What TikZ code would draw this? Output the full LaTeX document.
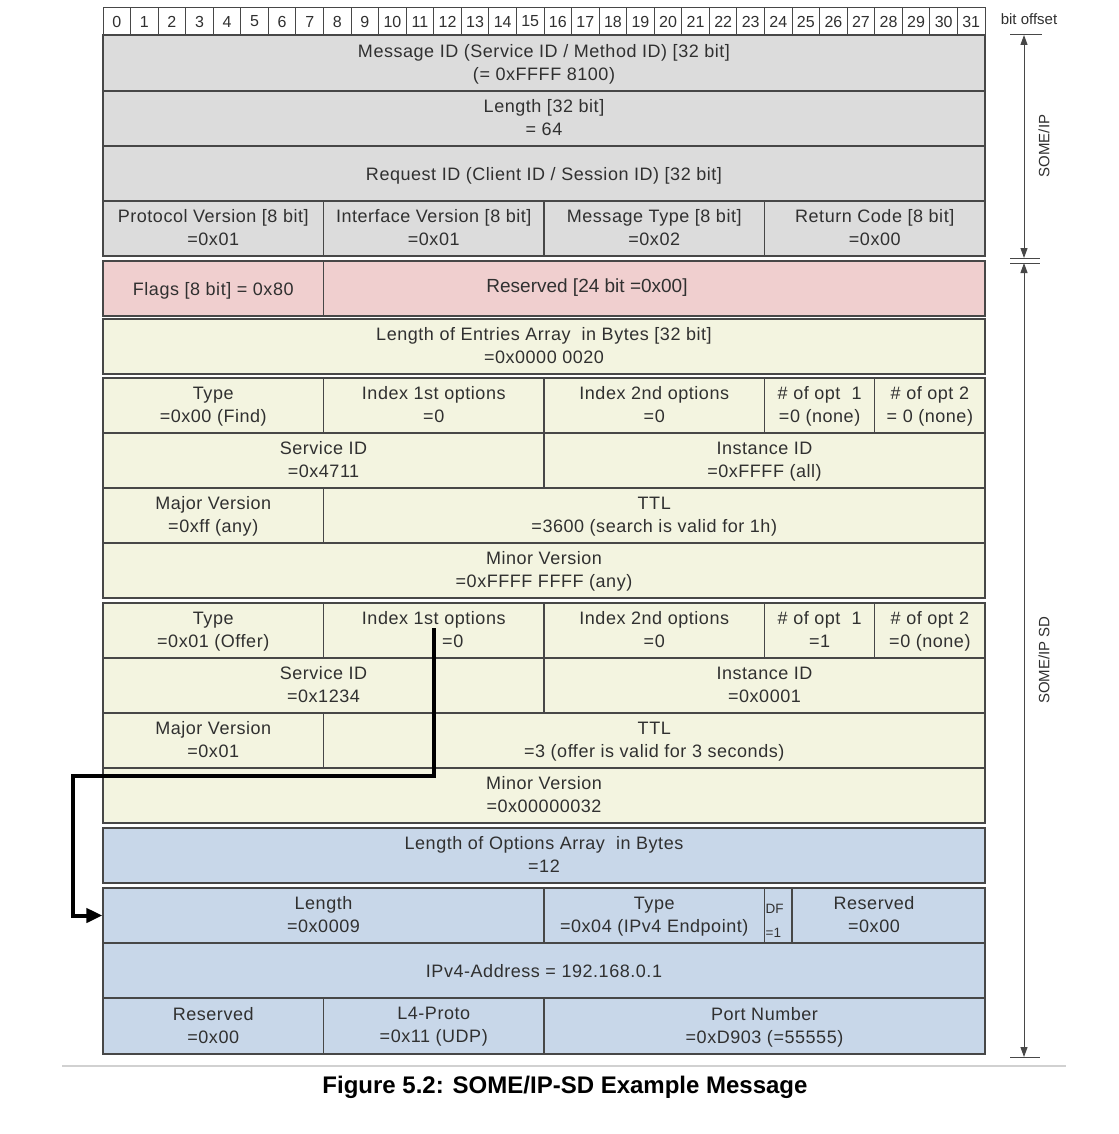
\documentclass[tikz,border=0pt]{standalone}
\usepackage{fontspec}
\setmainfont{Liberation Sans}
\newfontfamily\cellfont[LetterSpace=3]{Liberation Sans}
\usetikzlibrary{arrows.meta}
\definecolor{gr}{HTML}{DCDCDC}
\definecolor{pk}{HTML}{F0CFCF}
\definecolor{yl}{HTML}{F3F4E0}
\definecolor{bl}{HTML}{C8D7E9}
\definecolor{ln}{HTML}{474747}
\definecolor{tx}{HTML}{303030}
\newcommand\mkcell[7]{\node[cellbox,fill=#6,minimum width={(#3-#2)*27.5625pt},minimum height={(#5-#4)*1pt}] (#1) at ({103+(#2+#3)/2*27.5625},{(#4+#5)/2}) {};
  \node[celltext] (#1t) at ([yshift=-2.7pt]#1.center) {#7};}
\begin{document}
\begin{tikzpicture}[x=1pt,y=-1pt,
  cellbox/.style={draw=ln,line width=1.2pt,inner sep=0pt},
  celltext/.style={inner sep=0pt,align=center,text=tx,font=\cellfont\fontsize{18}{23}\selectfont,
    execute at begin node={\strut},execute at end node={\strut}},
  bitbox/.style={draw=ln,line width=1pt,fill=white,inner sep=0pt,minimum width=27.5625pt,minimum height=27pt,text=tx,font=\fontsize{16}{18}\selectfont},
  conn/.style={line width=4pt,black,-{Triangle[length=16pt,width=14pt]}},
  dimline/.style={line width=1pt,ln},
  dimarrow/.style={line width=1pt,ln,{Triangle[length=10pt,width=7pt]}-{Triangle[length=10pt,width=7pt]}},
  sidelabel/.style={rotate=90,text=tx,font=\fontsize{15}{17}\selectfont}]
\fill[white] (0,0) rectangle (1118,1134);
\useasboundingbox (0,0) rectangle (1118,1134);
% bit header
\foreach \i in {0,...,31} {\node[bitbox] (b\i) at ({103+(\i+0.5)*27.5625},21.5) {\i};}
\node[text=tx,font=\fontsize{15}{17}\selectfont] (bitoff) at (1029,19) {bit offset};
% SOME/IP header
\mkcell{msgid}{0}{32}{35}{91}{gr}{Message ID (Service ID / Method ID) [32 bit]\\(= 0xFFFF 8100)}
\mkcell{lenh}{0}{32}{91}{146}{gr}{Length [32 bit]\\= 64}
\mkcell{reqid}{0}{32}{146}{201}{gr}{Request ID (Client ID / Session ID) [32 bit]}
\mkcell{pv}{0}{8}{201}{256}{gr}{Protocol Version [8 bit]\\=0x01}
\mkcell{iv}{8}{16}{201}{256}{gr}{Interface Version [8 bit]\\=0x01}
\mkcell{mt}{16}{24}{201}{256}{gr}{Message Type [8 bit]\\=0x02}
\mkcell{rc}{24}{32}{201}{256}{gr}{Return Code [8 bit]\\=0x00}
% flags
\mkcell{flags}{0}{8}{261}{316}{pk}{Flags [8 bit] = 0x80}
\mkcell{res24}{8}{32}{261}{316}{pk}{}
\node[text=tx,font=\fontsize{19}{22}\selectfont] (res24t) at (587,288) {Reserved [24 bit =0x00]};
% entries
\mkcell{lea}{0}{32}{319}{374}{yl}{Length of Entries Array\ \ in Bytes [32 bit]\\=0x0000 0020}
\mkcell{ta}{0}{8}{378}{433}{yl}{Type\\=0x00 (Find)}
\mkcell{ia1}{8}{16}{378}{433}{yl}{Index 1st options\\=0}
\mkcell{ia2}{16}{24}{378}{433}{yl}{Index 2nd options\\=0}
\mkcell{na1}{24}{28}{378}{433}{yl}{\# of opt\ \ 1\\=0 (none)}
\mkcell{na2}{28}{32}{378}{433}{yl}{\# of opt 2\\= 0 (none)}
\mkcell{sa}{0}{16}{433}{488}{yl}{Service ID\\=0x4711}
\mkcell{ina}{16}{32}{433}{488}{yl}{Instance ID\\=0xFFFF (all)}
\mkcell{ma}{0}{8}{488}{543}{yl}{Major Version\\=0xff (any)}
\mkcell{ttla}{8}{32}{488}{543}{yl}{TTL\\=3600 (search is valid for 1h)}
\mkcell{mia}{0}{32}{543}{598}{yl}{Minor Version\\=0xFFFF FFFF (any)}
% second entry
\mkcell{tb}{0}{8}{603}{658}{yl}{Type\\=0x01 (Offer)}
\mkcell{ib1}{8}{16}{603}{658}{yl}{Index 1st options\\\hspace*{38pt}=0}
\mkcell{ib2}{16}{24}{603}{658}{yl}{Index 2nd options\\=0}
\mkcell{nb1}{24}{28}{603}{658}{yl}{\# of opt\ \ 1\\=1}
\mkcell{nb2}{28}{32}{603}{658}{yl}{\# of opt 2\\=0 (none)}
\mkcell{sb}{0}{16}{658}{713}{yl}{Service ID\\=0x1234}
\mkcell{inb}{16}{32}{658}{713}{yl}{Instance ID\\=0x0001}
\mkcell{mb}{0}{8}{713}{768}{yl}{Major Version\\=0x01}
\mkcell{ttlb}{8}{32}{713}{768}{yl}{TTL\\=3 (offer is valid for 3 seconds)}
\mkcell{mib}{0}{32}{768}{823}{yl}{Minor Version\\=0x00000032}
% options
\mkcell{loa}{0}{32}{828}{883}{bl}{Length of Options Array\ \ in Bytes\\=12}
\mkcell{olen}{0}{16}{888}{943}{bl}{Length\\=0x0009}
\mkcell{otype}{16}{24}{888}{943}{bl}{Type\\=0x04 (IPv4 Endpoint)}
\mkcell{odf}{24}{25}{888}{943}{bl}{}
\node[text=tx,font=\fontsize{13.5}{15}\selectfont,anchor=west,inner sep=0pt] (dft) at (765.5,909) {DF};
\node[text=tx,font=\fontsize{13.5}{15}\selectfont,anchor=west,inner sep=0pt] (dfv) at (765.5,933) {=1};
\mkcell{ores}{25}{32}{888}{943}{bl}{}
\node[celltext] (orest) at (874,918.2) {Reserved\\=0x00};
\mkcell{oip}{0}{32}{943}{998}{bl}{IPv4-Address = 192.168.0.1}
\mkcell{ores2}{0}{8}{998}{1054}{bl}{Reserved\\=0x00}
\mkcell{oproto}{8}{16}{998}{1054}{bl}{L4-Proto\\=0x11 (UDP)}
\mkcell{oport}{16}{32}{998}{1054}{bl}{Port Number\\=0xD903 (=55555)}
% connector
\coordinate (src) at (434,628);
\coordinate (bend) at (73,776);
\draw[conn] (src) |- (bend) |- (olen.west);
% dimension lines
\coordinate (t0) at (1024,35);
\coordinate (t1) at (1024,258);
\coordinate (t2) at (1024,263);
\coordinate (t3) at (1024,1057);
\draw[dimline] ([xshift=-14pt]t0) -- ([xshift=18pt]t0);
\draw[dimline] ([xshift=-14pt]t1) -- ([xshift=16pt]t1);
\draw[dimline] ([xshift=-14pt]t2) -- ([xshift=16pt]t2);
\draw[dimline] ([xshift=-14pt]t3) -- ([xshift=16pt]t3);
\draw[dimarrow] (t0) -- (t1);
\draw[dimarrow] (t2) -- (t3);
\node[sidelabel] (lab1) at (1044,146) {SOME/IP};
\node[sidelabel] (lab2) at (1044,660) {SOME/IP SD};
% rule and caption
\draw[line width=1.5pt,black!18] (62,1066) -- (1066,1066);
\node[font=\bfseries\fontsize{24}{27}\selectfont] (cap) at (565,1087) {Figure 5.2: SOME/IP-SD Example Message};
\end{tikzpicture}
\end{document}
